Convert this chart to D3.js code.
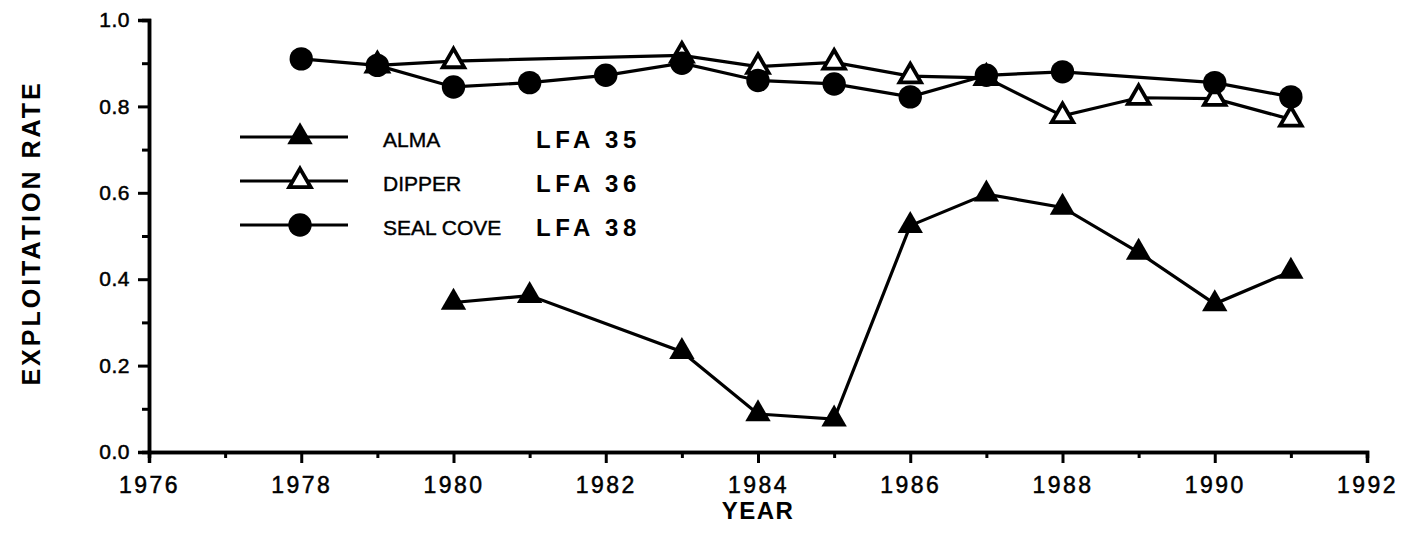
<!DOCTYPE html>
<html>
<head>
<meta charset="utf-8">
<script src="https://cdn.jsdelivr.net/npm/d3@7"></script>
<style>
  body { margin: 0; background: #fff; }
  svg text { font-family: "Liberation Sans", Arial, sans-serif; fill: #000; }
</style>
</head>
<body>
<div id="chart"></div>
<script>
var almaYears = [1980, 1981, 1983, 1984, 1985, 1986, 1987, 1988, 1989, 1990, 1991]
var almaRate = [0.346, 0.362, 0.232, 0.088, 0.076, 0.524, 0.597, 0.566, 0.462, 0.343, 0.418]

var dipperYears = [1979, 1980, 1983, 1984, 1985, 1986, 1987, 1988, 1989, 1990, 1991]
var dipperRate = [0.895, 0.905, 0.918, 0.892, 0.902, 0.870, 0.866, 0.778, 0.820, 0.818, 0.770]

var sealYears = [1978, 1979, 1980, 1981, 1982, 1983, 1984, 1985, 1986, 1987, 1988, 1990, 1991]
var sealRate = [0.910, 0.895, 0.845, 0.855, 0.872, 0.900, 0.860, 0.852, 0.822, 0.872, 0.880, 0.855, 0.822]

var yearTicks = [1976, 1978, 1980, 1982, 1984, 1986, 1988, 1990, 1992]
var rateTicks = [0.0, 0.2, 0.4, 0.6, 0.8, 1.0]

var legendNames = ["ALMA", "DIPPER", "SEAL COVE"]
var legendAreas = ["LFA 35", "LFA 36", "LFA 38"]

var width = 1401, height = 546

var svg = d3.select("#chart")
  .append("svg")
    .attr("width", width)
    .attr("height", height)

var x = d3.scaleLinear()
  .domain([1976, 1992])
  .range([149, 1367])

var y = d3.scaleLinear()
  .domain([0, 1])
  .range([452, 20])

// axes: major ticks labelled, minor ticks shorter
var xAxis = svg.append("g")
  .attr("transform", "translate(0," + y(0) + ")")
  .call(d3.axisBottom(x).tickValues(yearTicks).tickSize(11).tickPadding(8).tickFormat(d3.format("d")))
xAxis.selectAll("text")
  .attr("font-size", 23)
  .attr("letter-spacing", 2.5)
  .attr("dy", "0.95em")
  .attr("stroke", "#000")
  .attr("stroke-width", 0.5)
svg.append("g")
  .attr("transform", "translate(0," + y(0) + ")")
  .call(d3.axisBottom(x).tickValues(d3.range(1977, 1992, 2)).tickSize(6).tickFormat(""))

var yAxis = svg.append("g")
  .attr("transform", "translate(" + x(1976) + ",0)")
  .call(d3.axisLeft(y).tickValues(rateTicks).tickSize(11).tickPadding(8).tickFormat(d3.format(".1f")))
yAxis.selectAll("text")
  .attr("font-size", 21)
  .attr("letter-spacing", 0.5)
  .attr("stroke", "#000")
  .attr("stroke-width", 0.5)
svg.append("g")
  .attr("transform", "translate(" + x(1976) + ",0)")
  .call(d3.axisLeft(y).tickValues([0.1, 0.3, 0.5, 0.7, 0.9]).tickSize(7).tickFormat(""))

svg.selectAll(".domain").attr("stroke-width", 3.5)
svg.selectAll(".tick line").attr("stroke-width", 3)

svg.append("text")
  .attr("x", (x(1976) + x(1992)) / 2)
  .attr("y", 519)
  .attr("text-anchor", "middle")
  .attr("font-size", 24)
  .attr("font-weight", "bold")
  .attr("letter-spacing", 1.5)
  .text("YEAR")

svg.append("text")
  .attr("transform", "translate(40," + 233 + ") rotate(-90)")
  .attr("text-anchor", "middle")
  .attr("font-size", 25)
  .attr("font-weight", "bold")
  .attr("letter-spacing", 3)
  .text("EXPLOITATION RATE")

var line = d3.line()
  .x((d) => x(d[0]))
  .y((d) => y(d[1]))

var triangle = d3.symbol().type(d3.symbolTriangle).size(280)
var openTriangle = d3.symbol().type(d3.symbolTriangle).size(200)
var circle = d3.symbol().type(d3.symbolCircle).size(430)

var series = [
  { years: dipperYears, rate: dipperRate, shape: openTriangle, fill: "#fff" },
  { years: sealYears, rate: sealRate, shape: circle, fill: "#000" },
  { years: almaYears, rate: almaRate, shape: triangle, fill: "#000" }
]

series.forEach(function (s) {
  var pts = s.years.map((yr, i) => [yr, s.rate[i]])
  svg.append("path")
    .datum(pts)
    .attr("d", line)
    .attr("fill", "none")
    .attr("stroke", "black")
    .attr("stroke-width", 3.2)
})

series.forEach(function (s) {
  var pts = s.years.map((yr, i) => [yr, s.rate[i]])
  svg.selectAll("marks")
    .data(pts)
    .enter()
    .append("path")
    .attr("d", s.shape)
    .attr("transform", (d) => "translate(" + x(d[0]) + "," + y(d[1]) + ")")
    .attr("fill", s.fill)
    .attr("stroke", "black")
    .attr("stroke-width", s.fill == "#fff" ? 3.8 : 0)
})

// legend
var legendShapes = [triangle, openTriangle, circle]
var legendFills = ["#000", "#fff", "#000"]
var legend = svg.selectAll("legendRows")
  .data(legendNames)
  .enter()
  .append("g")
  .attr("transform", (d, i) => "translate(0," + (137 + i * 44) + ")")

legend.append("line")
  .attr("x1", 240)
  .attr("x2", 348)
  .attr("stroke", "black")
  .attr("stroke-width", 3.2)
legend.append("path")
  .attr("d", (d, i) => legendShapes[i]())
  .attr("transform", "translate(300,0)")
  .attr("fill", (d, i) => legendFills[i])
  .attr("stroke", "black")
  .attr("stroke-width", (d, i) => legendFills[i] == "#fff" ? 3.8 : 0)
legend.append("text")
  .attr("x", 383)
  .attr("y", 10)
  .attr("font-size", 21)
  .attr("stroke", "#000")
  .attr("stroke-width", 0.4)
  .text((d) => d)
legend.append("text")
  .attr("x", 536)
  .attr("y", 11)
  .attr("font-size", 24)
  .attr("font-weight", "bold")
  .attr("letter-spacing", 4.5)
  .text((d, i) => legendAreas[i])
</script>
</body>
</html>
